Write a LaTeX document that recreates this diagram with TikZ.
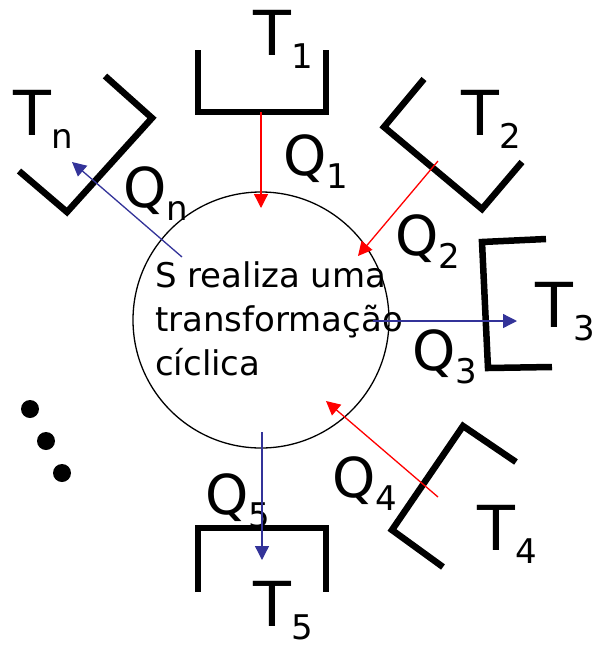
\documentclass[tikz,border=0pt]{standalone}
\usepackage{fontspec}
\setmainfont{DejaVu Sans}
\usepackage{tikz}
\usetikzlibrary{arrows.meta}
\definecolor{heatred}{RGB}{255,0,0}
\definecolor{heatblue}{RGB}{51,51,153}
\newcommand{\hsub}[2]{#1\raisebox{-13pt}{\fontsize{34}{34}\selectfont #2}}

\begin{document}
\begin{tikzpicture}[x=1pt, y=-1pt,
  tank/.style={line width=6.5pt, line join=miter},
  lbl/.style={anchor=base west, inner sep=0pt},
  tlbl/.style={lbl, font=\fontsize{62}{62}\selectfont},
  qlbl/.style={lbl, font=\fontsize{55}{55}\selectfont},
  arr/.style={-{Triangle[length=14pt,width=14pt]}, line width=1.3pt}]
\useasboundingbox (0,0) rectangle (600,649);
\node[draw, circle, line width=1.3pt, minimum size=256pt, inner sep=0pt] (sys) at (261,320) {};
\node[anchor=north west, inner sep=0pt, align=left, font=\fontsize{34}{44}\selectfont] (txt) at (155,261) {S realiza uma\\transformação\\cíclica};
\draw[tank] (198,50) -- (198,112) -- (326,112) -- (326,50);
\draw[tank] (424,79) -- (384,127) -- (482,209) -- (522,162);
\draw[tank] (546,239) -- (482,242) -- (488,368) -- (552,367);
\draw[tank] (516,462) -- (463,426) -- (392,530) -- (443,567);
\draw[tank] (198,592) -- (198,528) -- (326,528) -- (326,592);
\draw[tank] (105,76) -- (152,118) -- (67,212) -- (19,171);
\node[tlbl] (t1) at (253,55) {\hsub{T}{1}};
\node[tlbl] (t2) at (461,135) {\hsub{T}{2}};
\node[tlbl] (t3) at (535,327) {\hsub{T}{3}};
\node[tlbl] (t4) at (477,550) {\hsub{T}{4}};
\node[tlbl] (t5) at (253,626) {\hsub{T}{5}};
\node[tlbl] (tn) at (13,135) {\hsub{T}{n}};
\node[qlbl] (q1) at (283,175) {\hsub{Q}{1}};
\node[qlbl] (q2) at (395,255) {\hsub{Q}{2}};
\node[qlbl] (q3) at (412,370) {\hsub{Q}{3}};
\node[qlbl] (q4) at (332,497) {\hsub{Q}{4}};
\node[qlbl] (q5) at (205,514) {\hsub{Q}{5}};
\node[qlbl] (qn) at (123,207) {\hsub{Q}{n}};
\coordinate (a1) at (261,112); \coordinate (b1) at (261,208);
\coordinate (a2) at (438,161); \coordinate (b2) at (358,256);
\coordinate (a3) at (373,321); \coordinate (b3) at (517,321);
\coordinate (a4) at (438,497); \coordinate (b4) at (326,401);
\coordinate (a5) at (262,432); \coordinate (b5) at (262,560);
\coordinate (an) at (182,257); \coordinate (bn) at (72,162);
\foreach \a/\b/\c in {a1/b1/heatred, a2/b2/heatred, a3/b3/heatblue, a4/b4/heatred, a5/b5/heatblue, an/bn/heatblue} { \draw[arr, \c] (\a) -- (\b); }
\foreach \p in {(30,409), (46,441), (62,473)} { \fill \p circle (9pt); }
\end{tikzpicture}
\end{document}
